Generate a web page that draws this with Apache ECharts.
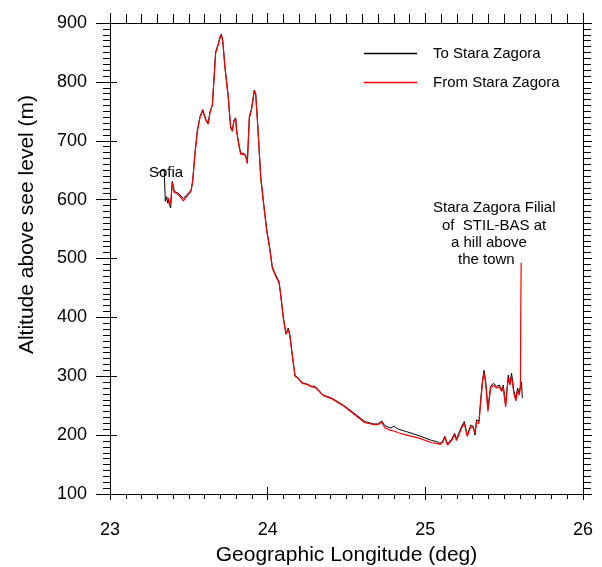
<!DOCTYPE html>
<html>
<head>
<meta charset="utf-8">
<title>Altitude profile Sofia - Stara Zagora</title>
<script src="https://cdn.jsdelivr.net/npm/echarts@6/dist/echarts.min.js"></script>
<style>
  html, body { margin: 0; padding: 0; background: #fff; }
  #chart { width: 602px; height: 567px; }
</style>
</head>
<body>
<div id="chart"></div>
<script>
// route Sofia -> Stara Zagora (black)
const toLon = [23.305, 23.330, 23.344, 23.351, 23.360, 23.366, 23.372, 23.378, 23.385, 23.395,
  23.408, 23.433, 23.465, 23.497, 23.514, 23.524, 23.539, 23.554, 23.571, 23.588,
  23.607, 23.623, 23.634, 23.649, 23.659, 23.670, 23.687, 23.698, 23.706, 23.715,
  23.729, 23.750, 23.765, 23.776, 23.786, 23.797, 23.803, 23.818, 23.829, 23.845,
  23.860, 23.871, 23.884, 23.898, 23.915, 23.924, 23.934, 23.945, 23.956, 23.977,
  23.994, 24.015, 24.029, 24.051, 24.072, 24.082, 24.099, 24.116, 24.131, 24.141,
  24.158, 24.173, 24.194, 24.219, 24.247, 24.279, 24.300, 24.353, 24.406, 24.480,
  24.564, 24.617, 24.670, 24.701, 24.723, 24.744, 24.780, 24.800, 24.830, 24.880,
  24.960, 25.040, 25.071, 25.093, 25.110, 25.124, 25.141, 25.167, 25.186, 25.198,
  25.230, 25.247, 25.266, 25.288, 25.304, 25.315, 25.325, 25.340, 25.351, 25.363,
  25.372, 25.383, 25.397, 25.414, 25.431, 25.452, 25.469, 25.484, 25.494, 25.509,
  25.526, 25.536, 25.547, 25.562, 25.575, 25.585, 25.595, 25.604, 25.610, 25.615];
const toAlt = [646, 649, 650, 597, 605, 594, 600, 590, 586, 631,
  614, 611, 602, 611, 616, 631, 679, 718, 741, 753,
  737, 730, 749, 761, 803, 851, 865, 877, 881, 871,
  826, 775, 724, 718, 735, 739, 718, 693, 679, 679,
  676, 663, 741, 755, 786, 781, 740, 690, 639, 588,
  549, 515, 486, 472, 461, 441, 401, 373, 382, 370,
  333, 302, 297, 289, 287, 283, 283, 268, 263, 251,
  234, 223, 219, 219, 224, 216, 212, 215, 210, 206,
  199, 191, 189, 186, 190, 198, 185, 193, 203, 193,
  215, 223, 200, 217, 215, 200, 226, 223, 260, 294,
  310, 291, 245, 283, 288, 283, 285, 277, 285, 252,
  302, 288, 305, 274, 263, 280, 271, 285, 290, 263];

// route Stara Zagora -> Sofia (red)
const fromLon = [23.370, 23.378, 23.386, 23.395, 23.408, 23.433, 23.465, 23.497, 23.514, 23.524,
  23.539, 23.554, 23.571, 23.588, 23.607, 23.623, 23.634, 23.649, 23.659, 23.670,
  23.687, 23.698, 23.706, 23.715, 23.729, 23.750, 23.765, 23.776, 23.786, 23.797,
  23.803, 23.818, 23.829, 23.845, 23.860, 23.871, 23.884, 23.898, 23.915, 23.924,
  23.934, 23.945, 23.956, 23.977, 23.994, 24.015, 24.029, 24.051, 24.072, 24.082,
  24.099, 24.116, 24.131, 24.141, 24.158, 24.173, 24.194, 24.219, 24.247, 24.279,
  24.300, 24.353, 24.406, 24.480, 24.564, 24.617, 24.670, 24.701, 24.723, 24.744,
  24.780, 24.800, 24.830, 24.880, 24.960, 25.040, 25.071, 25.093, 25.110, 25.124,
  25.141, 25.167, 25.186, 25.198, 25.230, 25.247, 25.266, 25.288, 25.304, 25.315,
  25.325, 25.340, 25.351, 25.363, 25.372, 25.383, 25.397, 25.414, 25.431, 25.452,
  25.469, 25.484, 25.494, 25.509, 25.526, 25.536, 25.547, 25.562, 25.575, 25.585,
  25.595, 25.603, 25.605, 25.607, 25.608];
const fromAlt = [603, 590, 600, 629, 612, 609, 598, 609, 614, 630,
  677, 716, 740, 751, 735, 728, 747, 760, 801, 849,
  863, 875, 879, 869, 824, 773, 722, 716, 733, 737,
  716, 691, 677, 677, 674, 661, 739, 753, 784, 779,
  738, 688, 637, 586, 547, 513, 484, 470, 459, 439,
  399, 371, 380, 368, 331, 300, 296, 288, 286, 282,
  281, 267, 262, 250, 232, 221, 218, 218, 222, 212,
  208, 207, 204, 200, 195, 187, 186, 184, 188, 196,
  183, 191, 200, 191, 212, 220, 198, 214, 212, 203,
  222, 220, 255, 290, 306, 287, 240, 280, 285, 280,
  282, 274, 282, 248, 298, 285, 300, 270, 258, 276,
  268, 280, 400, 470, 493];

// axis ticks
const xTicks = { min: 23, max: 26, step: 1 };
const yTicks = { min: 100, max: 900, step: 100 };

const FONT = "'Liberation Sans', Arial, Helvetica, sans-serif";

const zip = (xs, ys) => xs.map((x, i) => [x, ys[i]]);

const chart = echarts.init(document.getElementById('chart'));

const black = { color: '#000', width: 1 };
const baseX = { type: 'value', min: xTicks.min, max: xTicks.max, interval: xTicks.step };
const baseY = { type: 'value', min: yTicks.min, max: yTicks.max, interval: yTicks.step };

chart.setOption({
  animation: false,
  backgroundColor: '#fff',
  // fixed plot box, labels may sit outside it
  grid: { left: 110, right: 19, top: 23, bottom: 73, outerBoundsMode: 'none' },
  legend: {
    orient: 'vertical',
    left: 359,
    top: 41,
    icon: 'rect',
    itemWidth: 53,
    itemHeight: 1.3,
    itemGap: 14,
    data: ['To Stara Zagora', 'From Stara Zagora'],
    textStyle: { fontFamily: FONT, fontSize: 15, color: '#000', padding: [0, 0, 0, 11] }
  },
  xAxis: [
    // bottom axis: outward ticks + labels
    Object.assign({}, baseX, {
      position: 'bottom',
      axisLine: { lineStyle: black },
      axisTick: { length: 6, lineStyle: black },
      minorTick: { show: true, splitNumber: 10, length: 5, lineStyle: black },
      axisLabel: { fontFamily: FONT, fontSize: 18, color: '#000', margin: 27 },
      splitLine: { show: false },
      name: 'Geographic Longitude (deg)',
      nameLocation: 'middle',
      nameGap: 51,
      nameTextStyle: { fontFamily: FONT, fontSize: 21, color: '#000' }
    }),
    // inside part of major ticks
    Object.assign({}, baseX, {
      position: 'bottom',
      axisLine: { show: false },
      axisTick: { inside: true, length: 7, lineStyle: black },
      axisLabel: { show: false },
      splitLine: { show: false }
    }),
    // top frame
    Object.assign({}, baseX, {
      position: 'top',
      axisLine: { lineStyle: black },
      axisTick: { length: 10, lineStyle: black },
      minorTick: { show: true, splitNumber: 10, length: 9, lineStyle: black },
      axisLabel: { show: false },
      splitLine: { show: false }
    })
  ],
  yAxis: [
    Object.assign({}, baseY, {
      position: 'left',
      axisLine: { show: true, lineStyle: black },
      axisTick: { show: true, length: 14, lineStyle: black },
      minorTick: { show: true, splitNumber: 10, length: 7, lineStyle: black },
      axisLabel: { fontFamily: FONT, fontSize: 18, color: '#000', margin: 23 },
      splitLine: { show: false },
      name: 'Altitude above see level (m)',
      nameLocation: 'middle',
      nameGap: 72,
      nameTextStyle: { fontFamily: FONT, fontSize: 21, color: '#000', padding: [0, 0, 0, 68] }
    }),
    Object.assign({}, baseY, {
      position: 'left',
      axisLine: { show: false },
      axisTick: { show: true, inside: true, length: 7, lineStyle: black },
      axisLabel: { show: false },
      splitLine: { show: false }
    }),
    // right frame
    Object.assign({}, baseY, {
      position: 'right',
      axisLine: { show: true, lineStyle: black },
      axisTick: { show: true, length: 9, lineStyle: black },
      minorTick: { show: true, splitNumber: 10, length: 8, lineStyle: black },
      axisLabel: { show: false },
      splitLine: { show: false }
    })
  ],
  series: [
    {
      name: 'To Stara Zagora',
      type: 'line',
      symbol: 'none',
      color: '#000',
      lineStyle: { color: '#000', width: 1 },
      data: zip(toLon, toAlt)
    },
    {
      name: 'From Stara Zagora',
      type: 'line',
      symbol: 'none',
      color: '#ff0000',
      lineStyle: { color: '#ff0000', width: 1.2 },
      data: zip(fromLon, fromAlt)
    }
  ],
  graphic: [
    { type: 'text', left: 149, top: 165, style: { text: 'Sofia', font: '15px ' + FONT, fill: '#000' } },
    { type: 'text', left: 433, top: 200, style: { text: 'Stara Zagora Filial', font: '15px ' + FONT, fill: '#000' } },
    { type: 'text', left: 442, top: 218, style: { text: 'of  STIL-BAS at', font: '15px ' + FONT, fill: '#000' } },
    { type: 'text', left: 451, top: 235, style: { text: 'a hill above', font: '15px ' + FONT, fill: '#000' } },
    { type: 'text', left: 458, top: 252, style: { text: 'the town', font: '15px ' + FONT, fill: '#000' } }
  ]
});
</script>
</body>
</html>
